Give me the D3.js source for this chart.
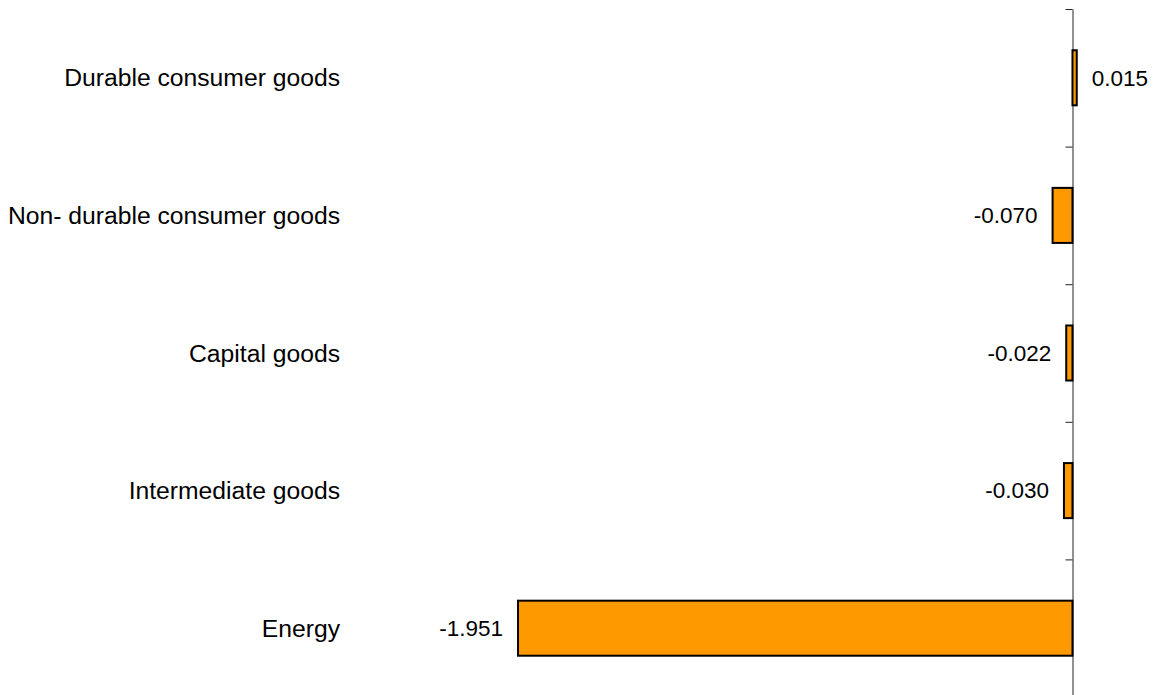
<!doctype html>
<html>
  <head>
    <script src="https://cdnjs.cloudflare.com/ajax/libs/d3/7.8.5/d3.min.js"></script>
    <style>
      body { margin: 0; background: #fff; }
      text { font-family: Arial, "Liberation Sans", sans-serif; fill: #000; }
    </style>
  </head>
  <body>
    <svg id="chart" width="1155" height="695"></svg>
    <script>
      var categories = ["Durable consumer goods", "Non- durable consumer goods", "Capital goods", "Intermediate goods", "Energy"];
      var values = [0.015, -0.070, -0.022, -0.030, -1.951];
      var valueLabels = ["0.015", "-0.070", "-0.022", "-0.030", "-1.951"];

      var data = categories.map((c, i) => ({cat: c, value: values[i], label: valueLabels[i]}));

      var svg = d3.select("#chart");

      var xScale = d3.scaleLinear().domain([-2, 0.1]).range([504.1, 1100.9]);
      var yScale = d3.scaleBand().domain(categories).range([9, 697])
        .paddingInner(0.6).paddingOuter(0.3);
      var tickScale = d3.scaleLinear().domain([0, categories.length]).range([9, 697]);

      // axis at zero, ticks between categories
      var yAxis = d3.axisLeft(tickScale).ticks(categories.length).tickFormat("").tickSize(7).tickSizeOuter(0);
      svg.append("g").attr("id", "yAxisG")
        .attr("transform", "translate(" + Math.round(xScale(0)) + ".5,0)")
        .call(yAxis)
        .call(g => g.selectAll("path, line").attr("stroke", "#222").attr("stroke-width", 1));

      svg.append("g").selectAll("rect")
        .data(data).enter().append("rect")
          .attr("x", d => xScale(Math.min(0, d.value)))
          .attr("width", d => Math.abs(xScale(d.value) - xScale(0)))
          .attr("y", d => yScale(d.cat))
          .attr("height", yScale.bandwidth())
          .attr("fill", "#FF9900")
          .attr("stroke", "#000")
          .attr("stroke-width", 2);

      svg.append("g").selectAll("text")
        .data(data).enter().append("text")
          .attr("x", d => d.value < 0 ? xScale(d.value) - 15 : xScale(d.value) + 15)
          .attr("y", d => yScale(d.cat) + yScale.bandwidth() / 2)
          .attr("dy", "0.35em")
          .attr("text-anchor", d => d.value < 0 ? "end" : "start")
          .style("font-size", "22.5px")
          .text(d => d.label);

      svg.append("g").selectAll("text")
        .data(data).enter().append("text")
          .attr("x", 340)
          .attr("y", d => yScale(d.cat) + yScale.bandwidth() / 2)
          .attr("dy", "0.35em")
          .attr("text-anchor", "end")
          .style("font-size", "24.7px")
          .text(d => d.cat);
    </script>
  </body>
</html>
